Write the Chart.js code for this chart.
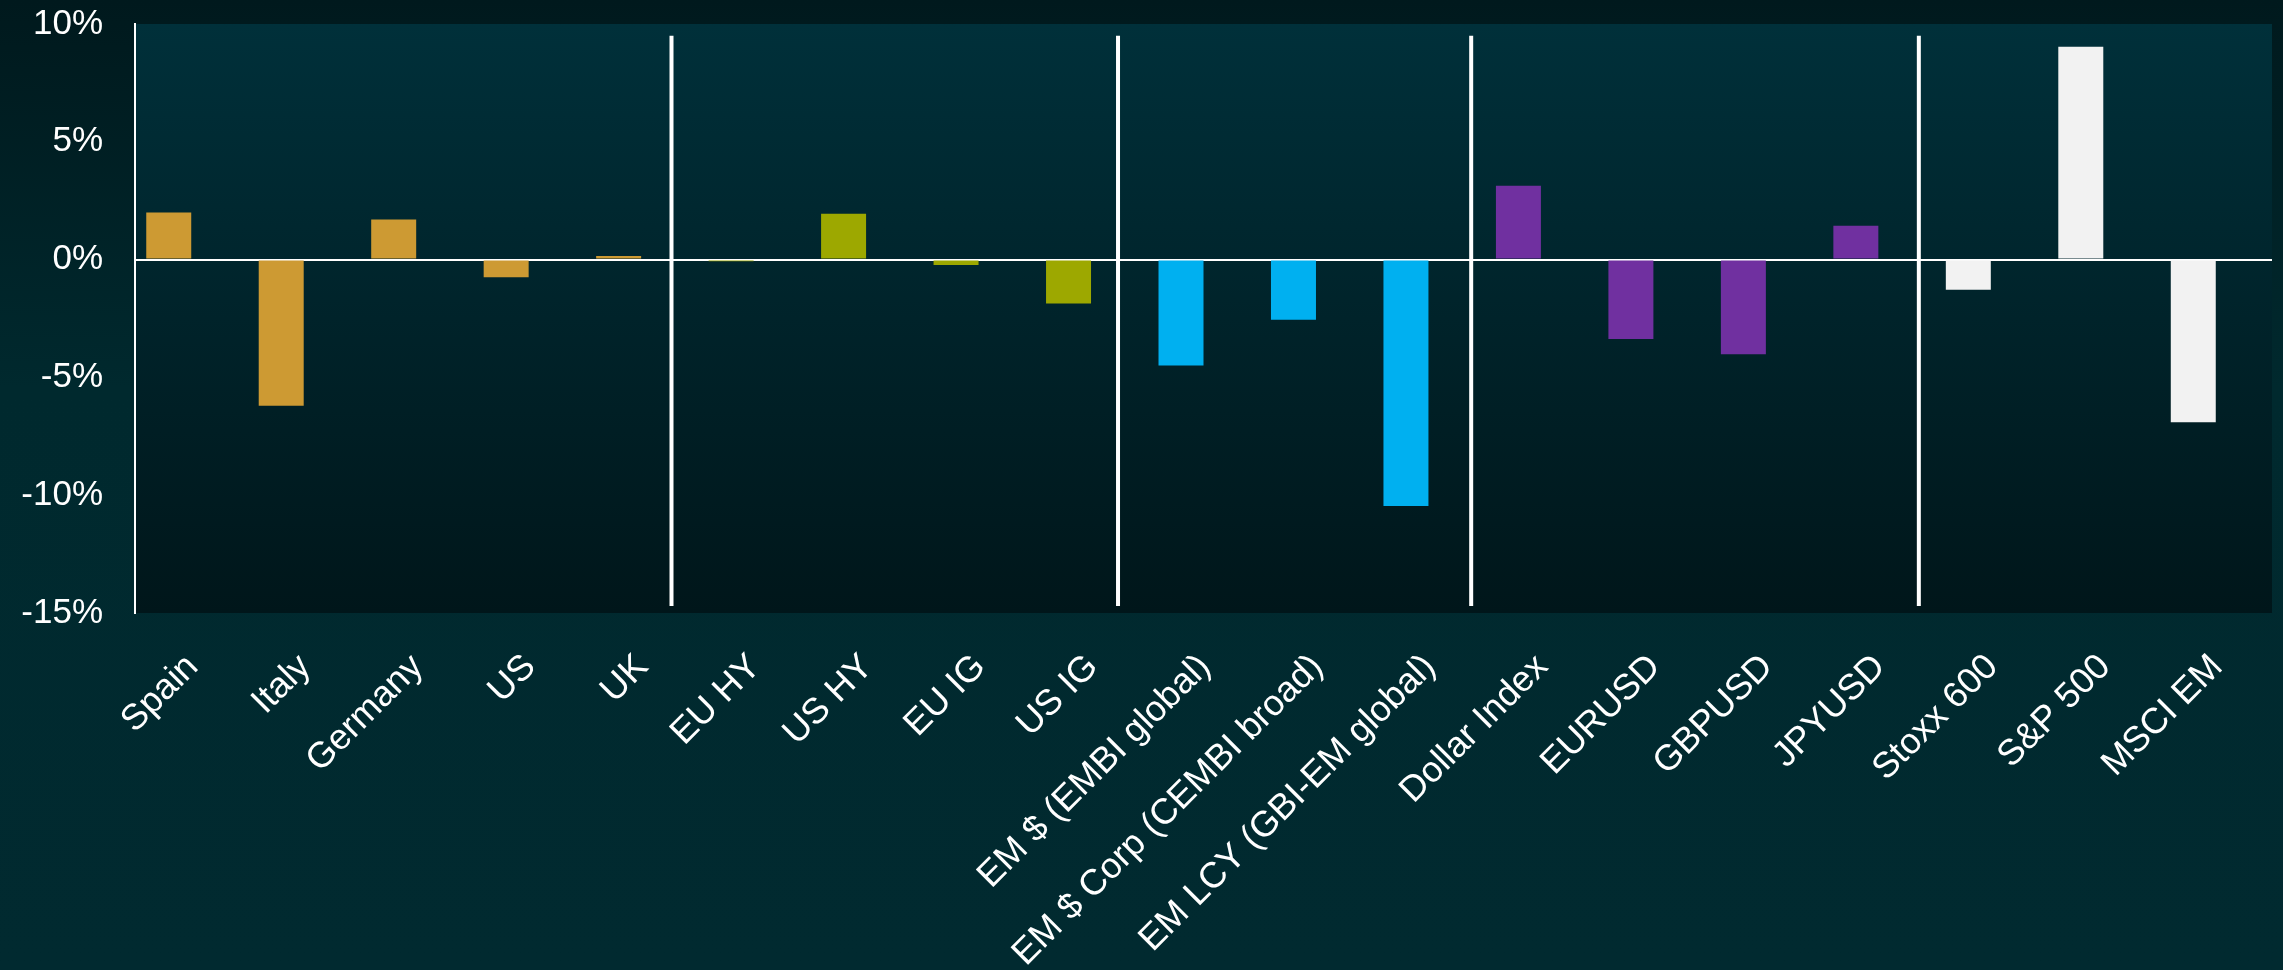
<!DOCTYPE html>
<html>
<head>
<meta charset="utf-8">
<title>Asset returns</title>
<script src="https://cdn.jsdelivr.net/npm/chart.js@4"></script>
<style>
    html, body { margin: 0; padding: 0; background: #012a30; }
    canvas { display: block; }
</style>
</head>
<body>
<canvas id="returns" width="2283" height="970"></canvas>
<script>
// Categories, grouped: govies, credit, EM debt, FX, equities
const categories = [
    "Spain", "Italy", "Germany", "US", "UK",
    "EU HY", "US HY", "EU IG", "US IG",
    "EM $ (EMBI global)", "EM $ Corp (CEMBI broad)", "EM LCY (GBI-EM global)",
    "Dollar Index", "EURUSD", "GBPUSD", "JPYUSD",
    "Stoxx 600", "S&P 500", "MSCI EM"
];
// Return in %
const returns = [
    2.0, -6.2, 1.7, -0.75, 0.15,
    -0.07, 1.95, -0.23, -1.86,
    -4.5, -2.55, -10.46,
    3.13, -3.37, -4.02, 1.44,
    -1.28, 9.03, -6.9
];
const groupSizes = [5, 4, 3, 4, 3];
const groupColors = ["#CD9A33", "#9DA800", "#00B0F0", "#7030A0", "#F2F2F2"];
// divider positions, in category units
const dividers = [4.47, 8.44, 11.58, 15.56];
const yTicks = [-15, -10, -5, 0, 5, 10];

const barColors = [];
groupSizes.forEach((n, g) => {
    for (let i = 0; i < n; i++) barColors.push(groupColors[g]);
});

Chart.defaults.font.family = '"Liberation Sans", Arial, sans-serif';
Chart.defaults.color = "#ffffff";

// dark gradients behind the page and the plot
const backdrop = {
    id: "backdrop",
    beforeDraw(chart) {
        const { ctx, width, height, chartArea: a } = chart;
        ctx.save();
        const outer = ctx.createLinearGradient(0, 0, 0, height);
        outer.addColorStop(0, "#00191d");
        outer.addColorStop(0.4, "#00292e");
        outer.addColorStop(1, "#012a30");
        ctx.fillStyle = outer;
        ctx.fillRect(0, 0, width, height);
        const inner = ctx.createLinearGradient(0, a.top, 0, a.bottom);
        inner.addColorStop(0, "#00303a");
        inner.addColorStop(1, "#00161a");
        ctx.fillStyle = inner;
        ctx.fillRect(a.left, a.top, a.right - a.left, a.bottom - a.top);
        ctx.restore();
    }
};

// white vertical lines between the asset groups
const groupDividers = {
    id: "groupDividers",
    afterDatasetsDraw(chart) {
        const { ctx, scales: { x, y } } = chart;
        ctx.save();
        ctx.strokeStyle = "#ffffff";
        ctx.lineWidth = 4;
        dividers.forEach(d => {
            const px = x.getPixelForValue(d);
            ctx.beginPath();
            ctx.moveTo(px, y.getPixelForValue(9.5));
            ctx.lineTo(px, y.getPixelForValue(-14.7));
            ctx.stroke();
        });
        ctx.restore();
    }
};

const ctx = document.getElementById("returns").getContext("2d");
new Chart(ctx, {
    type: "bar",
    data: {
        datasets: [{
            data: returns.map((v, i) => ({ x: i, y: v })),
            backgroundColor: barColors,
            borderWidth: 0,
            barPercentage: 0.4,
            categoryPercentage: 1
        }]
    },
    options: {
        responsive: false,
        animation: false,
        devicePixelRatio: 1,
        layout: { padding: { top: 24, right: 11, left: 0, bottom: 0 } },
        plugins: { legend: { display: false }, tooltip: { enabled: false } },
        scales: {
            x: {
                type: "linear",
                offset: false,
                min: -0.3,
                max: 18.7,
                grid: { display: false },
                border: { display: false },
                afterBuildTicks(scale) {
                    scale.ticks = categories.map((_, i) => ({ value: i }));
                },
                afterFit(scale) {
                    scale.height = 357;
                    scale.paddingLeft = 0;
                    scale.paddingRight = 0;
                },
                ticks: {
                    autoSkip: false,
                    minRotation: 45,
                    maxRotation: 45,
                    padding: 25,
                    labelOffset: 24,
                    font: { size: 36 },
                    callback: value => categories[value]
                }
            },
            y: {
                min: -15,
                max: 10,
                afterBuildTicks(scale) {
                    scale.ticks = yTicks.map(v => ({ value: v }));
                },
                afterFit(scale) {
                    scale.width = 135;
                    scale.paddingTop = 0;
                    scale.paddingBottom = 0;
                },
                grid: {
                    drawTicks: false,
                    lineWidth: 2,
                    color: c => (c.tick && c.tick.value === 0 ? "#ffffff" : "rgba(0,0,0,0)")
                },
                border: { display: true, color: "#ffffff", width: 2 },
                ticks: {
                    padding: 32,
                    font: { size: 35 },
                    callback: v => v + "%"
                }
            }
        }
    },
    plugins: [backdrop, groupDividers]
});
</script>
</body>
</html>
